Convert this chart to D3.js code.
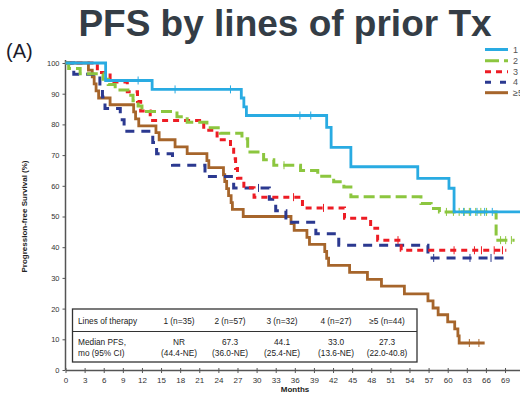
<!DOCTYPE html>
<html>
<head>
<meta charset="utf-8">
<script src="https://cdn.jsdelivr.net/npm/d3@7/dist/d3.min.js"></script>
<style>
  html, body { margin: 0; padding: 0; background: #fff; overflow: hidden; }
  svg { display: block; font-family: "Liberation Sans", Arial, sans-serif; }
</style>
</head>
<body>
<svg id="chart" width="520" height="407"></svg>
<script>
// ---------- DATA ----------
const seriesNames = ["1", "2", "3", "4", "\u22655"];
const seriesColors = ["#29abe2", "#8cc63f", "#ed1c24", "#2b3990", "#a6652b"];

// Series 1 (1 line, n=35)
const s1Time = [0, 6.3, 13.6, 27.6, 28.0, 28.4, 41.0, 41.7, 44.8, 55.3, 60.2, 61.0, 71.6];
const s1Surv = [100, 94.3, 91.4, 88.6, 85.7, 82.9, 79.0, 72.5, 66.2, 62.4, 59.2, 51.5, 51.5];
const s1Cens = [11.4, 17.2, 25.9, 36.8, 38.5, 62.5, 63.6, 64.6, 65.8, 67.0];

// Series 2 (2 lines, n=57)
const s2Time = [0, 0.5, 2.3, 5.9, 6.7, 7.8, 9.8, 10.6, 11.4, 12.0, 17.5, 19.1, 22.2, 24.3, 27.7, 28.6, 31.1, 32.7, 36.9, 39.6, 42.1, 43.7, 44.8, 55.8, 57.4, 58.7, 67.6, 70.5];
const s2Surv = [100, 98.2, 96.5, 94.7, 93.0, 91.2, 89.5, 87.7, 86.0, 84.2, 82.5, 80.7, 78.9, 77.1, 75.3, 71.0, 68.5, 66.7, 65.0, 63.1, 61.3, 59.6, 56.4, 54.2, 52.6, 51.5, 42.3, 42.3];
const s2Cens = [34.3, 59.8, 60.9, 61.8, 62.6, 63.4, 64.4, 65.2, 66.1, 68.3, 69.1, 70.0];

// Series 3 (3 lines, n=32)
const s3Time = [0, 5.0, 7.0, 9.7, 11.3, 11.8, 13.3, 21.7, 23.8, 25.9, 26.4, 26.7, 27.0, 28.0, 29.6, 37.2, 43.8, 47.9, 49.0, 52.7, 69.2];
const s3Surv = [100, 96.9, 93.8, 90.6, 87.5, 84.4, 81.3, 78.1, 75.0, 71.9, 68.8, 65.6, 62.5, 59.4, 56.3, 52.8, 49.4, 46.2, 42.3, 39.0, 39.0];
const s3Cens = [35.8, 40.5, 52.2, 61.0, 64.2, 65.3, 67.3, 68.6];

// Series 4 (4 lines, n=27)
const s4Time = [0, 1.3, 5.4, 5.8, 6.2, 8.6, 9.2, 13.7, 14.3, 16.8, 21.9, 26.4, 32.0, 33.0, 34.6, 39.3, 42.9, 56.9, 68.9];
const s4Surv = [100, 96.3, 92.6, 88.9, 85.2, 81.5, 77.8, 74.1, 70.4, 66.7, 63.0, 59.3, 55.6, 51.9, 48.1, 44.4, 40.6, 36.5, 36.5];
const s4Cens = [30.3, 57.8, 63.5, 66.8];

// Series 5 (>=5 lines, n=44)
const s5Time = [0, 3.6, 4.2, 4.5, 4.8, 5.2, 7.0, 10.7, 11.0, 11.5, 14.2, 14.7, 17.2, 19.1, 22.2, 22.5, 24.8, 25.0, 25.3, 25.6, 26.0, 26.2, 27.9, 35.4, 35.9, 37.9, 38.3, 40.7, 41.0, 41.3, 44.6, 47.4, 49.6, 53.2, 56.9, 57.7, 58.5, 60.0, 61.1, 61.6, 61.8, 65.8];
const s5Surv = [100, 97.7, 95.5, 93.2, 90.9, 88.6, 86.4, 84.1, 81.8, 79.5, 77.3, 75.0, 72.7, 70.5, 68.2, 65.9, 63.6, 61.4, 59.1, 56.8, 54.5, 52.3, 50.0, 47.7, 45.5, 43.2, 40.9, 38.6, 36.4, 34.1, 31.8, 29.5, 27.3, 24.8, 22.5, 20.2, 18.0, 15.7, 13.4, 11.1, 8.8, 8.8];
const s5Cens = [63.4, 64.9];

// Axis ticks
const xTicks = [0, 3, 6, 9, 12, 15, 18, 21, 24, 27, 30, 33, 36, 39, 42, 45, 48, 51, 54, 57, 60, 63, 66, 69, 72];
const yTicks = [0, 10, 20, 30, 40, 50, 60, 70, 80, 90, 100];

// Table
const tableHeader = ["Lines of therapy", "1 (n=35)", "2 (n=57)", "3 (n=32)", "4 (n=27)", "\u22655 (n=44)"];
const tableMedian = ["NR", "67.3", "44.1", "33.0", "27.3"];
const tableCI = ["(44.4-NE)", "(36.0-NE)", "(25.4-NE)", "(13.6-NE)", "(22.0-40.8)"];

// ---------- DRAW ----------
const svg = d3.select("#chart");
const x = d3.scaleLinear().domain([0, 72]).range([65.5, 65.5 + 72 * 6.37]);
const y = d3.scaleLinear().domain([0, 100]).range([370, 63]);

const series = [
  { t: s1Time, s: s1Surv, c: s1Cens, dash: null, w: 2.8 },
  { t: s2Time, s: s2Surv, c: s2Cens, dash: "11,5", w: 3 },
  { t: s3Time, s: s3Surv, c: s3Cens, dash: "6,5", w: 3 },
  { t: s4Time, s: s4Surv, c: s4Cens, dash: "9,7", w: 3 },
  { t: s5Time, s: s5Surv, c: s5Cens, dash: null, w: 2.8 }
];

// Title
svg.append("text").attr("x", 285).attr("y", 36).attr("text-anchor", "middle")
  .attr("font-size", 37).attr("font-weight", "bold").attr("fill", "#343d46")
  .text("PFS by lines of prior Tx");
svg.append("text").attr("x", 6).attr("y", 58)
  .attr("font-size", 20).attr("fill", "#1b1b2b").text("(A)");

// Axes
const xAxis = d3.axisBottom(x).tickValues(xTicks).tickFormat(d3.format("d")).tickSizeInner(3).tickSizeOuter(0).tickPadding(4);
const gx = svg.append("g").attr("transform", `translate(0,${y(0)})`).call(xAxis);
gx.select(".domain").attr("stroke", "#555").attr("stroke-width", 1.5);
gx.selectAll(".tick line").attr("stroke", "#555").attr("y1", -2).attr("y2", 3);
gx.selectAll(".tick text").attr("font-size", 8).attr("fill", "#333")
  .attr("font-family", "'Liberation Sans', Arial, sans-serif");

const yAxis = d3.axisLeft(y).tickValues(yTicks).tickSizeInner(3).tickSizeOuter(0).tickPadding(3);
const gy = svg.append("g").attr("transform", `translate(${x(0)},0)`).call(yAxis);
gy.select(".domain").attr("stroke", "#555").attr("stroke-width", 1.5).attr("d", `M0,${y(101)}V${y(0)}`);
gy.selectAll(".tick line").attr("stroke", "#555");
gy.selectAll(".tick text").attr("font-size", 7.5).attr("fill", "#333")
  .attr("font-family", "'Liberation Sans', Arial, sans-serif");

svg.append("text").attr("transform", `translate(27,${(y(0) + y(100)) / 2}) rotate(-90)`)
  .attr("text-anchor", "middle").attr("font-size", 8).attr("font-weight", "bold").attr("fill", "#222")
  .text("Progression-free Survival (%)");
svg.append("text").attr("x", 295).attr("y", 392).attr("text-anchor", "middle")
  .attr("font-size", 8).attr("font-weight", "bold").attr("fill", "#222").text("Months");

// Curves
const line = d3.line().x(d => x(d[0])).y(d => y(d[1])).curve(d3.curveStepAfter);
function survAt(sr, t) {
  let v = sr.s[0];
  for (let i = 0; i < sr.t.length; i++) { if (sr.t[i] <= t) v = sr.s[i]; }
  return v;
}
const order = [4, 3, 2, 1, 0];
order.forEach(i => {
  const sr = series[i];
  const pts = sr.t.map((t, k) => [t, sr.s[k]]);
  const p = svg.append("path").datum(pts).attr("d", line)
    .attr("fill", "none").attr("stroke", seriesColors[i]).attr("stroke-width", sr.w)
    .attr("stroke-linejoin", "miter");
  if (sr.dash) p.attr("stroke-dasharray", sr.dash);
  svg.append("g").selectAll("line").data(sr.c).join("line")
    .attr("x1", d => x(d)).attr("x2", d => x(d))
    .attr("y1", d => y(survAt(sr, d)) - 4).attr("y2", d => y(survAt(sr, d)) + 4)
    .attr("stroke", seriesColors[i]).attr("stroke-width", 1);
});

// Legend
const legY = [49.5, 60.7, 71.7, 82.3, 92.7];
const legDash = [null, "14,5,5,0", "6,5", "6,9", null];
seriesNames.forEach((n, i) => {
  const l = svg.append("line").attr("x1", 485).attr("x2", 508).attr("y1", legY[i]).attr("y2", legY[i])
    .attr("stroke", seriesColors[i]).attr("stroke-width", 3);
  if (legDash[i]) l.attr("stroke-dasharray", legDash[i]);
  svg.append("text").attr("x", 513).attr("y", legY[i] + 3).attr("font-size", 9).attr("fill", "#555").text(n);
});

// Table
const tb = { x0: 72.5, x1: 417, y0: 309, y1: 362, ym: 331.5 };
svg.append("rect").attr("x", tb.x0).attr("y", tb.y0).attr("width", tb.x1 - tb.x0).attr("height", tb.y1 - tb.y0)
  .attr("fill", "#fff").attr("stroke", "#333").attr("stroke-width", 1.3);
svg.append("line").attr("x1", tb.x0).attr("x2", tb.x1).attr("y1", tb.ym).attr("y2", tb.ym)
  .attr("stroke", "#333").attr("stroke-width", 1.1);
const colX = [179, 230, 282, 336, 387];
const tfs = 8.3;
svg.append("text").attr("x", 78).attr("y", 324).attr("font-size", tfs).attr("fill", "#222").text(tableHeader[0]);
svg.append("text").attr("x", 78).attr("y", 345).attr("font-size", tfs).attr("fill", "#222").text("Median PFS,");
svg.append("text").attr("x", 78).attr("y", 356).attr("font-size", tfs).attr("fill", "#222").text("mo (95% CI)");
colX.forEach((cx, i) => {
  svg.append("text").attr("x", cx).attr("y", 324).attr("text-anchor", "middle").attr("font-size", tfs).attr("fill", "#222").text(tableHeader[i + 1]);
  svg.append("text").attr("x", cx).attr("y", 345).attr("text-anchor", "middle").attr("font-size", tfs).attr("fill", "#222").text(tableMedian[i]);
  svg.append("text").attr("x", cx).attr("y", 356).attr("text-anchor", "middle").attr("font-size", tfs).attr("fill", "#222").text(tableCI[i]);
});
</script>
</body>
</html>
